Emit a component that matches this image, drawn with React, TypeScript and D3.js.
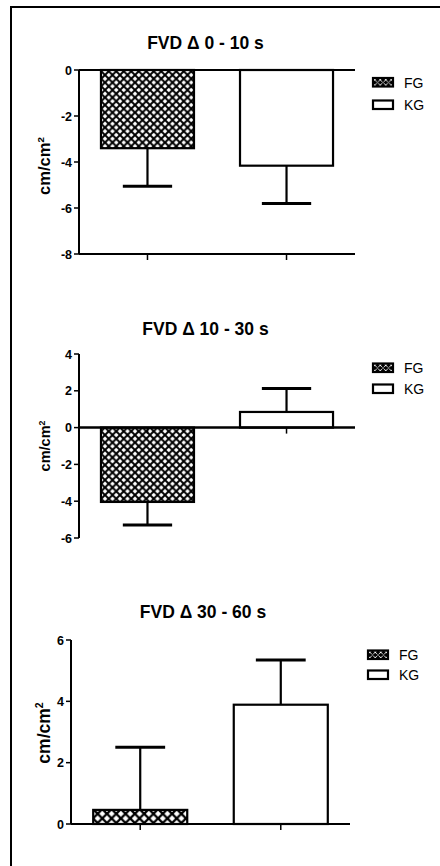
import React from "react";
import * as d3 from "d3";

const groups = ["FG", "KG"];
const titles = ["FVD Δ 0 - 10 s", "FVD Δ 10 - 30 s", "FVD Δ 30 - 60 s"];
const means1 = [-3.4, -4.16];
const sem1 = [1.65, 1.64];
const means2 = [-4.04, 0.85];
const sem2 = [1.26, 1.27];
const means3 = [0.46, 3.89];
const sem3 = [2.04, 1.46];
const ticks1 = [0, -2, -4, -6, -8];
const ticks2 = [4, 2, 0, -2, -4, -6];
const ticks3 = [0, 2, 4, 6];

const FONT = "'Liberation Sans', Arial, sans-serif";

type PanelProps = {
  title: string;
  means: number[];
  sems: number[];
  ticks: number[];
  x0: number;
  x1: number;
  yTop: number;
  yBot: number;
  titleY: number;
  titleX: number;
  legendX: number;
  legendY: number;
  legendGap: number;
  labelX: number;
  labelCY: number;
  labelSize: number;
  bottomAxis: boolean;
  patId: string;
};

function Panel(p: PanelProps) {
  const ext = d3.extent(p.ticks) as [number, number];
  const y = d3.scaleLinear().domain(ext).range([p.yBot, p.yTop]);
  const x = d3.scaleBand<string>().domain(groups).range([p.x0, p.x1]).paddingInner(0.331).paddingOuter(0.158);
  const axisY = p.bottomAxis ? y(ext[0]) : y(0);
  const bw = x.bandwidth();
  const cap = bw * 0.53;
  return (
    <g>
      <text x={p.titleX} y={p.titleY} textAnchor="middle" fontFamily={FONT} fontWeight="bold" fontSize={17.5}>
        {p.title}
      </text>
      <text
        transform={`translate(${p.labelX},${p.labelCY}) rotate(-90)`}
        textAnchor="middle"
        fontFamily={FONT}
        fontWeight="bold"
        fontSize={p.labelSize}
      >
        cm/cm<tspan dy={-p.labelSize * 0.38} fontSize={p.labelSize * 0.6}>2</tspan>
      </text>
      {groups.map((g, i) => {
        const top = Math.min(y(0), y(p.means[i]));
        const h = Math.abs(y(p.means[i]) - y(0));
        const cx = (x(g) as number) + bw / 2;
        const endV = p.means[i] >= 0 ? p.means[i] + p.sems[i] : p.means[i] - p.sems[i];
        return (
          <g key={g}>
            <line x1={cx} x2={cx} y1={y(p.means[i])} y2={y(endV)} stroke="#000" strokeWidth={2.2} />
            <line x1={cx - cap / 2} x2={cx + cap / 2} y1={y(endV)} y2={y(endV)} stroke="#000" strokeWidth={3} />
            <rect
              x={x(g)}
              y={top}
              width={bw}
              height={h}
              fill={i === 0 ? `url(#${p.patId})` : "#fff"}
              stroke="#000"
              strokeWidth={2.2}
            />
          </g>
        );
      })}
      <line x1={p.x0} x2={p.x1} y1={y(0)} y2={y(0)} stroke="#000" strokeWidth={2} />
      <line x1={p.x0} x2={p.x1} y1={axisY} y2={axisY} stroke="#000" strokeWidth={2} />
      {groups.map((g) => (
        <line
          key={g}
          x1={(x(g) as number) + bw / 2}
          x2={(x(g) as number) + bw / 2}
          y1={axisY}
          y2={axisY + 6}
          stroke="#000"
          strokeWidth={1.5}
        />
      ))}
      <line x1={p.x0} x2={p.x0} y1={p.yTop} y2={p.yBot} stroke="#000" strokeWidth={2} />
      {p.ticks.map((t) => (
        <g key={t}>
          <line x1={p.x0 - 5} x2={p.x0} y1={y(t)} y2={y(t)} stroke="#000" strokeWidth={1.5} />
          <text
            x={p.x0 - 7}
            y={y(t)}
            dy="0.36em"
            textAnchor="end"
            fontFamily={FONT}
            fontWeight="bold"
            fontSize={12.5}
          >
            {t}
          </text>
        </g>
      ))}
      {groups.map((g, i) => (
        <g key={g} transform={`translate(${p.legendX},${p.legendY + i * p.legendGap})`}>
          <rect
            x={1}
            y={1}
            width={20}
            height={8.5}
            fill={i === 0 ? "url(#legpat)" : "#fff"}
            stroke="#000"
            strokeWidth={2.2}
          />
          <text x={32} y={10.5} fontFamily={FONT} fontSize={14}>
            {g}
          </text>
        </g>
      ))}
    </g>
  );
}

export default function App() {
  return (
    <svg
      width={440}
      height={866}
      style={{ position: "absolute", left: 0, top: 0, background: "#fff" }}
    >
      <defs>
        <pattern id="hatch75" width={7.5} height={7.5} patternUnits="userSpaceOnUse">
          <rect width={7.5} height={7.5} fill="#fff" />
          <path d="M0,0 L7.5,7.5 M7.5,0 L0,7.5" stroke="#000" strokeWidth={2} />
        </pattern>
        <pattern id="hatch9" width={9.3} height={9.3} patternUnits="userSpaceOnUse">
          <rect width={9.3} height={9.3} fill="#fff" />
          <path d="M0,0 L9.3,9.3 M9.3,0 L0,9.3" stroke="#000" strokeWidth={2.3} />
        </pattern>
        <pattern id="legpat" width={5.5} height={5.5} patternUnits="userSpaceOnUse">
          <rect width={5.5} height={5.5} fill="#000" />
          <path d="M0.5,0.5 L5,5 M5,0.5 L0.5,5" stroke="#fff" strokeWidth={0.9} />
        </pattern>
      </defs>
      <line x1={11} x2={440} y1={7} y2={7} stroke="#000" strokeWidth={2} />
      <line x1={11} x2={11} y1={6} y2={866} stroke="#000" strokeWidth={2} />
      <Panel
        title={titles[0]}
        means={means1}
        sems={sem1}
        ticks={ticks1}
        x0={79}
        x1={355}
        yTop={70}
        yBot={254}
        titleX={205.5}
        titleY={49.3}
        legendX={372}
        legendY={77}
        legendGap={22.5}
        labelX={50}
        labelCY={166}
        labelSize={16.5}
        bottomAxis={true}
        patId="hatch75"
      />
      <Panel
        title={titles[1]}
        means={means2}
        sems={sem2}
        ticks={ticks2}
        x0={79}
        x1={355}
        yTop={354}
        yBot={538}
        titleX={205.5}
        titleY={335}
        legendX={372}
        legendY={362.5}
        legendGap={21}
        labelX={50}
        labelCY={446}
        labelSize={14.5}
        bottomAxis={false}
        patId="hatch75"
      />
      <Panel
        title={titles[2]}
        means={means3}
        sems={sem3}
        ticks={ticks3}
        x0={71}
        x1={350}
        yTop={640}
        yBot={824}
        titleX={203}
        titleY={618}
        legendX={367}
        legendY={649.5}
        legendGap={20}
        labelX={50}
        labelCY={733}
        labelSize={17.5}
        bottomAxis={false}
        patId="hatch9"
      />
    </svg>
  );
}
